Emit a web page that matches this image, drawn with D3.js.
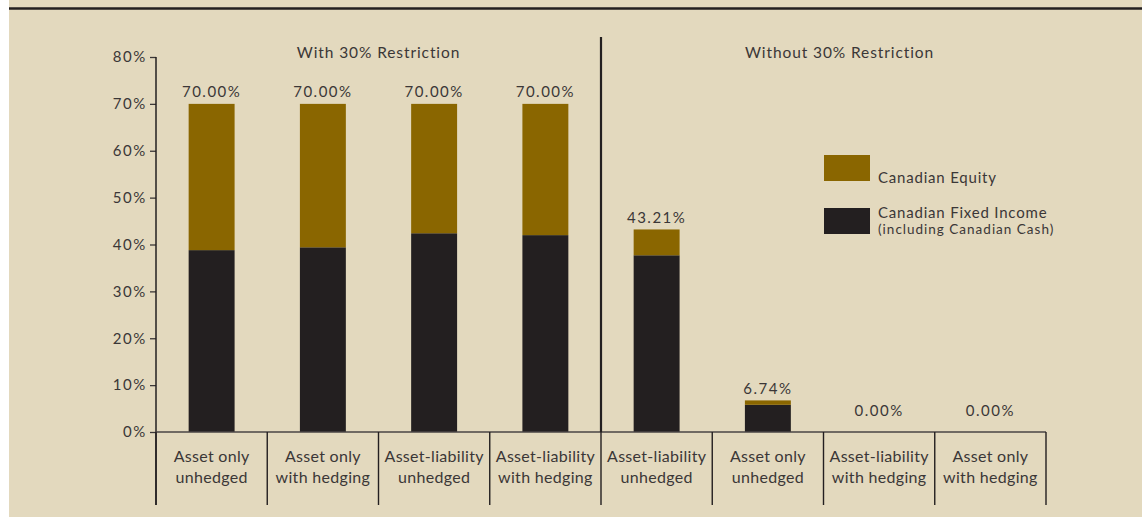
<!DOCTYPE html>
<html><head><meta charset="utf-8">
<script src="https://cdn.jsdelivr.net/npm/d3@7"></script>
<style>
html,body{margin:0;padding:0;background:#fff;}
svg{display:block;}
text{font-family:Lato,"Open Sans",sans-serif;fill:#3b3737;}
</style></head>
<body>
<script>
// ---- data ----
const catLine1 = ["Asset only","Asset only","Asset-liability","Asset-liability","Asset-liability","Asset only","Asset-liability","Asset only"];
const catLine2 = ["unhedged","with hedging","unhedged","with hedging","unhedged","unhedged","with hedging","with hedging"];
const fixedIncome = [38.8, 39.4, 42.4, 42.0, 37.7, 5.8, 0, 0];
const equity      = [31.2, 30.6, 27.6, 28.0, 5.51, 0.94, 0, 0];
const totalLabels = ["70.00%","70.00%","70.00%","70.00%","43.21%","6.74%","0.00%","0.00%"];
const yTicks = [0,10,20,30,40,50,60,70,80];
const panelTitles = ["With 30% Restriction","Without 30% Restriction"];
const seriesNames = ["Canadian Equity","Canadian Fixed Income"];
const legendSub = "(including Canadian Cash)";
const colors = {equity:"#8a6600", fixed:"#231f20"};

const W=1142,H=517;
const svg=d3.select("body").append("svg").attr("width",W).attr("height",H);
svg.append("rect").attr("x",0).attr("y",0).attr("width",W).attr("height",H).attr("fill","#fff");
svg.append("rect").attr("x",9).attr("y",0).attr("width",W-9).attr("height",H).attr("fill","#e3d9be");
svg.append("line").attr("x1",9).attr("x2",W).attr("y1",8.5).attr("y2",8.5).attr("stroke","#231f20").attr("stroke-width",2.5);

const idx = d3.range(catLine1.length);
const pLeft=156,pRight=1046,pTop=57,pBase=432,pBottom=505;
const x=d3.scaleBand().domain(idx).range([pLeft,pRight]).paddingInner(0.587).paddingOuter(0.2935);
const step=x.step();
const y=d3.scaleLinear().domain([0,80]).range([pBase,pTop]);

// y axis
const ya=svg.append("g").attr("transform",`translate(${pLeft},0)`)
  .call(d3.axisLeft(y).tickValues(yTicks).tickFormat(d=>d+"%").tickSize(6).tickSizeOuter(0));
ya.select(".domain").remove();
ya.selectAll(".tick line").attr("stroke","#3b3737").attr("stroke-width",1.3);
ya.selectAll(".tick text").attr("x",-9).style("font-size","15px").style("letter-spacing","1.6px").style("font-family","Lato,sans-serif").attr("fill","#3b3737");
svg.append("line").attr("x1",pLeft).attr("x2",pLeft).attr("y1",pTop).attr("y2",pBottom).attr("stroke","#231f20").attr("stroke-width",1.5);

// bars
const g=svg.append("g");
g.selectAll(".fi").data(idx).join("rect").attr("x",i=>x(i)).attr("width",x.bandwidth())
  .attr("y",i=>y(fixedIncome[i])).attr("height",i=>y(0)-y(fixedIncome[i])).attr("fill",colors.fixed);
g.selectAll(".eq").data(idx).join("rect").attr("x",i=>x(i)).attr("width",x.bandwidth())
  .attr("y",i=>y(fixedIncome[i]+equity[i])).attr("height",i=>y(fixedIncome[i])-y(fixedIncome[i]+equity[i])).attr("fill",colors.equity);
g.selectAll(".tl").data(idx).join("text").attr("x",i=>x(i)+x.bandwidth()/2)
  .attr("y",i=>{const t=fixedIncome[i]+equity[i]; return y(t)-(t>0?6.5:16);}).attr("text-anchor","middle")
  .style("font-size","15px").style("letter-spacing","1.5px").text(i=>totalLabels[i]);

// x axis line
svg.append("line").attr("x1",pLeft).attr("x2",pRight).attr("y1",pBase).attr("y2",pBase).attr("stroke","#4a4545").attr("stroke-width",1.6);
// separators
const seps=d3.range(catLine1.length+1).map(k=>pLeft+k*step);
svg.selectAll(".sep").data(seps).join("line").attr("x1",d=>d).attr("x2",d=>d).attr("y1",pBase).attr("y2",pBottom)
  .attr("stroke","#231f20").attr("stroke-width",1.4);
// divider
const divX=pLeft+4*step;
svg.append("line").attr("x1",divX).attr("x2",divX).attr("y1",37).attr("y2",pBase).attr("stroke","#231f20").attr("stroke-width",2.2);

// category labels
const cl=svg.selectAll(".cl").data(idx).join("text").attr("text-anchor","middle").style("font-size","16px").style("letter-spacing","0.3px");
cl.append("tspan").attr("x",i=>x(i)+x.bandwidth()/2).attr("y",462).text(i=>catLine1[i]);
cl.append("tspan").attr("x",i=>x(i)+x.bandwidth()/2).attr("y",483).text(i=>catLine2[i]);

// panel titles
svg.append("text").attr("x",(pLeft+divX)/2).attr("y",58).attr("text-anchor","middle").style("font-size","15.5px").style("letter-spacing","0.9px").text(panelTitles[0]);
svg.append("text").attr("x",(divX+pRight)/2+16).attr("y",58).attr("text-anchor","middle").style("font-size","15.5px").style("letter-spacing","0.9px").text(panelTitles[1]);

// legend
const lx=824;
svg.append("rect").attr("x",lx).attr("y",155).attr("width",46).attr("height",26).attr("fill",colors.equity);
svg.append("text").attr("x",878).attr("y",183).style("font-size","15px").style("letter-spacing","0.8px").text(seriesNames[0]);
svg.append("text").attr("x",878).attr("y",218).style("font-size","15px").style("letter-spacing","0.8px").text(seriesNames[1]);
svg.append("rect").attr("x",lx).attr("y",208).attr("width",46).attr("height",26).attr("fill",colors.fixed);
svg.append("text").attr("x",878).attr("y",234).style("font-size","13.5px").style("letter-spacing","1px").text(legendSub);
</script>
</body></html>
